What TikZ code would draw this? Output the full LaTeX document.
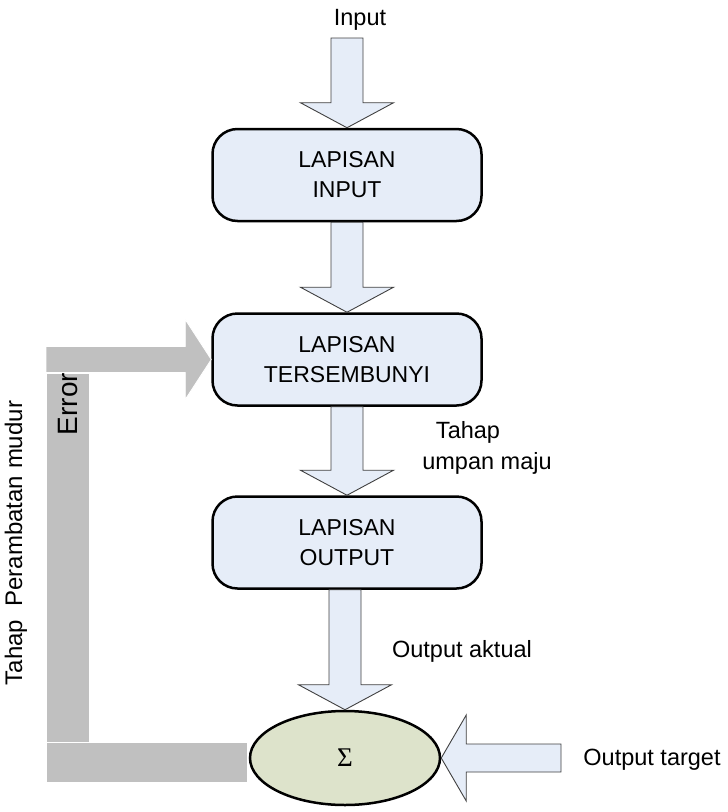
\documentclass[tikz,border=0pt]{standalone}
\usepackage{fontspec}
\setmainfont{Liberation Sans}
\newfontfamily\serifsig{Liberation Serif}
\usetikzlibrary{calc,shapes.geometric}
\definecolor{boxblue}{RGB}{230,237,248}
\definecolor{sumgreen}{RGB}{221,227,203}
\definecolor{fbgray}{RGB}{192,192,192}
\definecolor{arrline}{RGB}{64,64,64}
\tikzset{
  layer/.style={draw=black, line width=2.5pt, fill=boxblue, rounded corners=25pt,
    minimum width=269pt, minimum height=92pt, align=center, inner sep=0pt,
    font=\fontsize{23}{30}\selectfont},
  sumnode/.style={ellipse, draw=black, line width=2.5pt, fill=sumgreen,
    minimum width=190pt, minimum height=94pt, inner sep=0pt},
  blockarrow/.style={draw=arrline, line width=0.9pt, fill=boxblue, line join=miter},
  fbshape/.style={fill=fbgray, draw=white, line width=0.8pt},
  lbl/.style={inner sep=0pt, font=\fontsize{23.5}{28}\selectfont},
}
\newcommand\downblock[2]{%
  \draw[blockarrow] let \p1=(#1), \p2=(#2) in
    (\x2-16pt,\y1) -- (\x2+16pt,\y1) -- (\x2+16pt,\y2+25pt) -- (\x2+46.5pt,\y2+25pt)
    -- (\x2,\y2) -- (\x2-46.5pt,\y2+25pt) -- (\x2-16pt,\y2+25pt) -- cycle;}
\begin{document}
\begin{tikzpicture}[x=1pt,y=-1pt]
\useasboundingbox (0,0) rectangle (728,812);

% nodes
\node[layer] (inl) at (347,175) {LAPISAN\\INPUT};
\node[layer] (hid) at (347,359.5) {LAPISAN\\TERSEMBUNYI};
\node[layer] (outl) at (347,542.5) {LAPISAN\\OUTPUT};
\node[sumnode] (sum) at (345,758) {\serifsig\fontsize{27}{27}\selectfont Σ};

\node[lbl] (inlabel) at (360,20) {Input};
\node[lbl] (tahap) at (468,432) {Tahap};
\node[lbl] (umpan) at (487,463) {umpan maju};
\node[lbl] (aktual) at (462,651) {Output aktual};
\node[lbl] (target) at (652,760) {Output target};

\coordinate (inTop) at (347,38);
\coordinate (tgtEnd) at (561,760);
\coordinate (fbStart) at (46,362);

% forward arrows
\downblock{inTop}{inl.north}
\downblock{inl.south}{hid.north}
\downblock{hid.south}{outl.north}
\downblock{outl.south}{sum.north}

% target arrow
\draw[blockarrow] let \p1=(tgtEnd), \p2=(sum.east) in
  (\x1,\y2+14pt) -- (\x2+25pt,\y2+14pt) -- (\x2+25pt,\y2+43pt) -- (\x2,\y2)
  -- (\x2+25pt,\y2-43pt) -- (\x2+25pt,\y2-14pt) -- (\x1,\y2-14pt) -- cycle;

% feedback path
\path[fbshape] (46,782) rectangle (247,742);
\path[fbshape] (46,742) rectangle (89,373);
\path[fbshape] let \p1=(fbStart), \p2=(hid.west) in
  (\x1,\y2+13pt) -- (\x2-26pt,\y2+13pt) -- (\x2-26pt,\y2+40pt) -- (\x2,\y2)
  -- (\x2-26pt,\y2-40pt) -- (\x2-26pt,\y2-13pt) -- (\x1,\y2-13pt) -- cycle;

\node[inner sep=0pt, rotate=90, font=\fontsize{28}{28}\selectfont] (err) at (68,404) {Error};
\node[inner sep=0pt, rotate=90, font=\fontsize{24}{24}\selectfont] (tahapback) at (16,543) {Tahap\ \ Perambatan mudur};
\end{tikzpicture}
\end{document}
